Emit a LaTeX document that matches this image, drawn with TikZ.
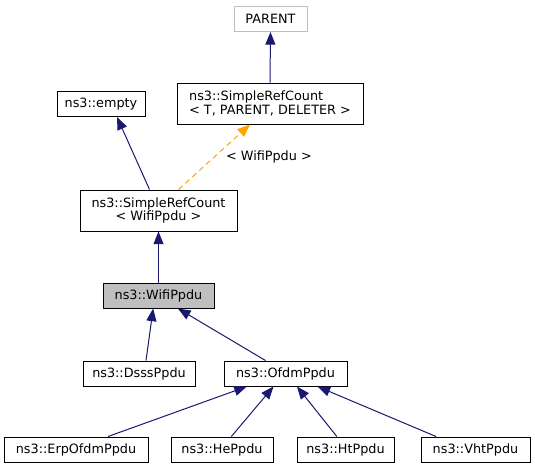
\documentclass[tikz,border=0pt]{standalone}
\usepackage{fontspec}
\setmainfont{DejaVu Sans}
\usetikzlibrary{arrows.meta,calc}
\definecolor{edgeblue}{HTML}{191970}
\definecolor{edgeorange}{HTML}{FFA500}
\definecolor{boxgray}{HTML}{BFBFBF}
\begin{document}
\begin{tikzpicture}[x=0.75pt,y=-0.75pt,
  cls/.style={draw=black,line width=0.75pt,fill=white,inner sep=0pt,
    minimum height=18.75pt,align=center,font=\fontsize{9.6}{10}\selectfont},
  tall/.style={minimum height=30.75pt},
  inh/.style={draw=edgeblue,line width=0.75pt,-{Triangle[length=9.5pt,width=7.5pt]}},
  tmpl/.style={draw=edgeorange,line width=0.75pt,dash pattern=on 4pt off 3pt,
    -{Triangle[length=9.5pt,width=7.5pt]}},
  lbl/.style={font=\fontsize{9.6}{10}\selectfont,inner sep=0pt}]
\useasboundingbox (0,0) rectangle (535,469);
\fill[white] (0,0) rectangle (535,469);
% nodes
\node[cls,draw=boxgray,minimum width=54.75pt] (parent) at (270.5,19) {PARENT};
\node[cls,tall,align=left,minimum width=139.5pt] (srct) at (270,103.5) {ns3::SimpleRefCount\\< T, PARENT, DELETER >};
\node[cls,minimum width=66pt] (empty) at (101,104) {ns3::empty};
\node[cls,tall,minimum width=117.75pt] (srcw) at (158.5,210.5) {ns3::SimpleRefCount\\< WifiPpdu >};
\node[cls,fill=boxgray,minimum width=83.25pt] (wifi) at (158.5,295.5) {ns3::WifiPpdu};
\node[cls,minimum width=84pt] (dsss) at (139,373.5) {ns3::DsssPpdu};
\node[cls,minimum width=92.25pt] (ofdm) at (285.5,373.5) {ns3::OfdmPpdu};
\node[cls,minimum width=108pt] (erp) at (76,449.5) {ns3::ErpOfdmPpdu};
\node[cls,minimum width=76.5pt] (he) at (222,449.5) {ns3::HePpdu};
\node[cls,minimum width=72.75pt] (ht) at (345.5,449.5) {ns3::HtPpdu};
\node[cls,minimum width=81.75pt] (vht) at (475.5,449.5) {ns3::VhtPpdu};
% edges
\draw[inh] (srct.north) -- (parent.south);
\draw[inh] ([xshift=-6.75pt]srcw.north) -- ([xshift=12pt]empty.south);
\draw[tmpl] ([xshift=15pt]srcw.north) -- ([xshift=-15pt]srct.south)
  node[lbl,pos=0.5,right=8.5pt] (tl) {< WifiPpdu >};
\draw[inh] (wifi.north) -- (srcw.south);
\draw[inh] ([xshift=5.25pt]dsss.north) -- ([xshift=-4pt]wifi.south);
\draw[inh] ([xshift=-15pt]ofdm.north) -- ([xshift=14.6pt]wifi.south);
\draw[inh] ([xshift=24pt]erp.north) -- ([xshift=-29pt]ofdm.south);
\draw[inh] ([xshift=7pt]he.north) -- ([xshift=-9pt]ofdm.south);
\draw[inh] ([xshift=-6.5pt]ht.north) -- ([xshift=8.6pt]ofdm.south);
\draw[inh] ([xshift=-29.6pt]vht.north) -- ([xshift=24pt]ofdm.south);
\end{tikzpicture}
\end{document}
